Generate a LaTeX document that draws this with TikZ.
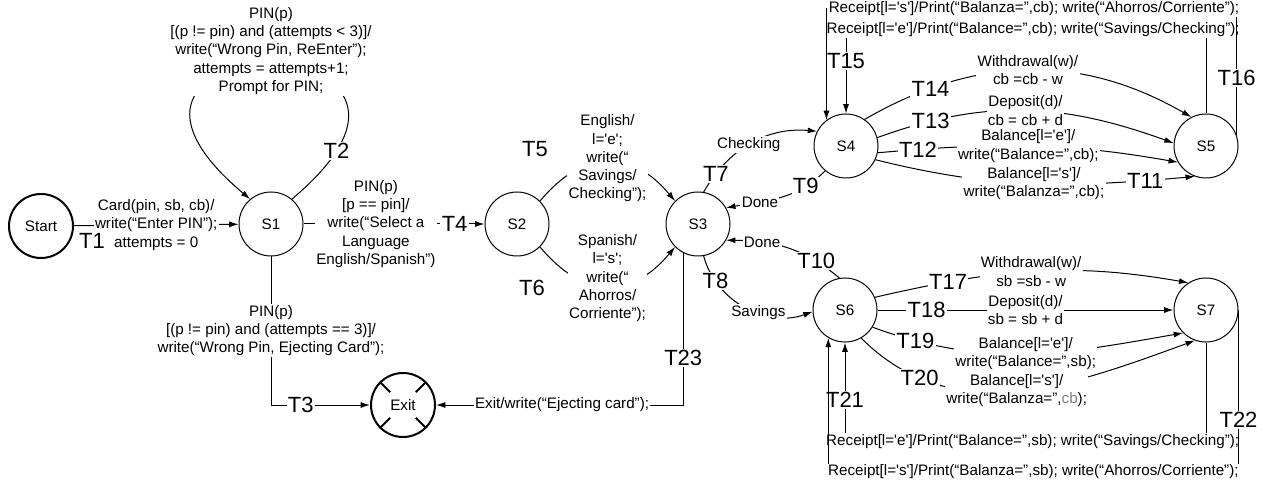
\documentclass[tikz,border=0pt]{standalone}
\usepackage{fontspec}
\setmainfont{Liberation Sans}
\usetikzlibrary{arrows.meta}
\usetikzlibrary{positioning}
\usetikzlibrary{calc}

\newcommand{\lbl}{\fontsize{11.4}{13.7}\selectfont}
\newcommand{\tlbl}{\fontsize{16.5}{18}\selectfont}
\newcommand{\sq}{\textquotesingle}

\begin{document}
\begin{tikzpicture}
        [x=0.75pt,y=-0.75pt,
        state/.style={circle,draw=black,line width=0.75pt,minimum size=48pt,inner sep=0pt,font=\lbl},
        terminal/.style={state,line width=1.5pt},
        on/.style={-{Latex[length=7pt,width=4.5pt]},line width=0.75pt},
        act/.style={fill=white,inner sep=1pt,align=center,font=\lbl},
        tag/.style={inner sep=1pt,font=\tlbl},
        tagon/.style={tag,fill=white}]

\useasboundingbox (0,0) rectangle (1269,484);

% States %
\node[terminal] (start) at (41,226) {Start};
\node[state] (s1) at (271,224) {S1};
\node[state] (s2) at (517,224) {S2};
\node[state] (s3) at (698,224) {S3};
\node[state] (s4) at (846,146) {S4};
\node[state] (s5) at (1206,146) {S5};
\node[state] (s6) at (845,310) {S6};
\node[state] (s7) at (1206,310) {S7};
\node[terminal] (exit) at (403,405) {Exit};
\foreach \a in {45,135,225,315}
	\draw[line width=1.5pt] (exit.\a) -- ($(exit.center)!.55!(exit.\a)$);

% PIN %
\draw[on] (start) -- node[act] {Card(pin, sb, cb)/\\write(“Enter PIN”);\\attempts = 0} (s1);
\node[tag] at (92,241) {T1};
\draw[on] (s1.50) to[out=40,in=140,looseness=17]
	node[act,pos=.5,yshift=11pt] {PIN(p)\\{}[(p != pin) and (attempts < 3)]/\\write(“Wrong Pin, ReEnter”);\\attempts = attempts+1;\\Prompt for PIN;}
	node[tagon,pos=.1] {T2} (s1.130);
\draw[on] (s1.south) |- node[act,pos=.25] {PIN(p)\\{}[(p != pin) and (attempts == 3)]/\\write(“Wrong Pin, Ejecting Card”);}
	node[tagon,pos=.65] {T3} (exit.west);
\draw[on] (s1) -- node[act,pos=.4] {PIN(p)\\{}[p == pin]/\\write(“Select a\\Language\\English/Spanish”)}
	node[tagon,pos=.835] {T4} (s2);

% Language %
\draw[on] (s2.45) to[bend left=50,looseness=1.3] node[act,yshift=2.5pt] {English/\\l=\sq e\sq;\\write(“\\Savings/\\Checking”);} (s3.135);
\node[tag] at (535,149) {T5};
\draw[on] (s2.-45) to[bend right=50,looseness=1.3] node[act,yshift=6pt] {Spanish/\\l=\sq s\sq;\\write(“\\Ahorros/\\Corriente”);} (s3.-135);
\node[tag] at (532,288) {T6};

% Accounts %
\draw[on] (s3.80) to[out=60,in=175] node[tagon,pos=.15] {T7} node[act,pos=.48] {Checking} (s4.153);
\draw[on] (s4.230) to[out=225,in=10] node[tagon,pos=.22] {T9} node[act,pos=.7] {Done} (s3.30);
\draw[on] (s3.-80) to[out=-75,in=200] node[tagon,pos=.2] {T8} node[act,pos=.6] {Savings} (s6.183);
\draw[on] (s6.100) to[out=140,in=0] node[tagon,pos=.22] {T10} node[act,pos=.72] {Done} (s3.-30);
\draw[on] (s3.243) |- node[tagon,pos=.345] {T23} node[act,pos=.745] {Exit/write(“Ejecting card”);} (exit.east);

% Checking %
\draw[on] (s4.55) to[out=30,in=150] node[tagon,pos=.2] {T14} node[act] {Withdrawal(w)/\\cb =cb - w} (s5.117);
\draw[on] (s4.15) to[out=20,in=160] node[tagon,pos=.17] {T13} node[act] {Deposit(d)/\\cb = cb + d} (s5.175);
\draw[on] (s4.-12) to[out=5,in=170] node[tagon,pos=.12] {T12} node[act] {Balance[l=\sq e\sq]/\\write(“Balance=”,cb);} (s5.210);
\draw[on] (s4.-25) to[out=-14,in=185] node[act] {Balance[l=\sq s\sq]/\\write(“Balanza=”,cb);} node[tagon,pos=.86] {T11} (s5.250);
\draw[on] (s5.north) -- ++(0,-84) -| node[act,pos=.24] {Receipt[l=\sq e\sq]/Print(“Balance=”,cb); write(“Savings/Checking”);}
	node[tagon,pos=.69] {T15} (s4.north);
\draw[on] (s5.20) -- node[tagon,pos=.45] {T16} ++(0,-126) -| node[act,pos=.247] {Receipt[l=\sq s\sq]/Print(“Balanza=”,cb); write(“Ahorros/Corriente”);} (s4.127);

% Savings %
\draw[on] (s6.23) to[out=13,in=170] node[tagon,pos=.22] {T17} node[act] {Withdrawal(w)/\\sb =sb - w} (s7.123);
\draw[on] (s6) -- node[tagon,pos=.166] {T18} node[act] {Deposit(d)/\\sb = sb + d} (s7);
\draw[on] (s6.-32) to[out=-20,in=190] node[tagon,pos=.13] {T19} node[act] {Balance[l=\sq e\sq]/\\write(“Balance=”,sb);} (s7.225);
\draw[on] (s6.-60) to[out=-45,in=200] node[tagon,pos=.2] {T20} node[act] {Balance[l=\sq s\sq]/\\write(“Balanza=”,{\color{gray}cb});} (s7.250);
\draw[on] (s7.south) -- ++(0,99) -| node[act,pos=.24] {Receipt[l=\sq e\sq]/Print(“Balance=”,sb); write(“Savings/Checking”);}
	node[tagon,pos=.71] {T21} (s6.south);
\draw[on] (s7.east) -- node[tagon,pos=.68] {T22} ++(0,162) -| node[act,pos=.25] {Receipt[l=\sq s\sq]/Print(“Balanza=”,sb); write(“Ahorros/Corriente”);} (s6.239);
\end{tikzpicture}
\end{document}
